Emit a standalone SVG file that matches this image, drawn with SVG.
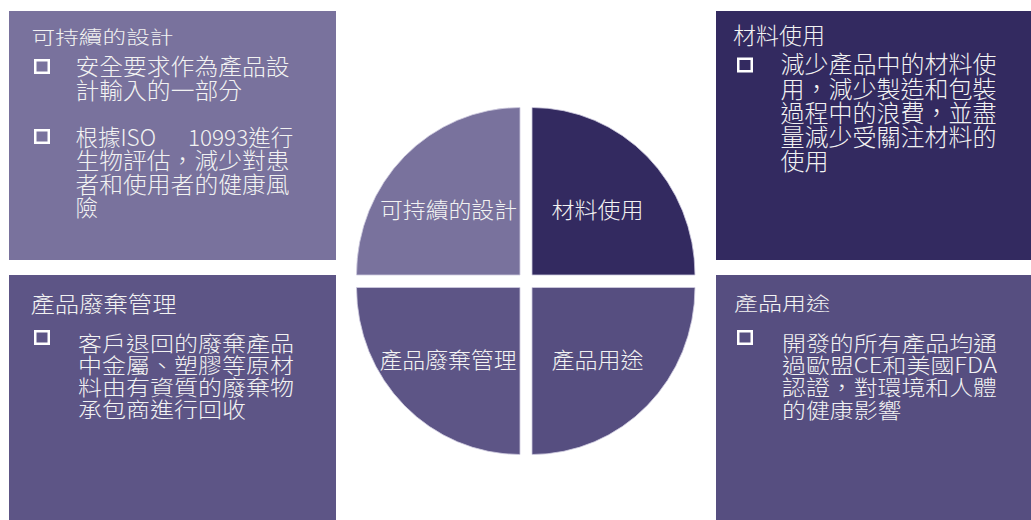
<svg xmlns="http://www.w3.org/2000/svg" width="1031" height="520" viewBox="0 0 1031 520">
<style>
text{font-family:"Noto Sans CJK TC","Noto Sans CJK SC",sans-serif;font-weight:300;fill:#F2F2F2}
.bul{fill:none;stroke:#FFFFFF;stroke-width:2.5}
.q{stroke:#CFCBE0;stroke-width:0.8}
.c{text-anchor:middle;font-size:22px}
</style>
<rect width="1031" height="520" fill="#FFFFFF"/>
<g id="box-sustainable">
<rect x="9" y="11" width="327" height="249" fill="#79729D"/>
<text x="31.5" y="44.3" font-size="18.5" textLength="142" lengthAdjust="spacingAndGlyphs">可持續的設計</text>
<rect class="bul" x="35.25" y="60.25" width="13.5" height="12.5"/>
<g font-size="22.5">
<text x="75.5" y="75" textLength="214" lengthAdjust="spacingAndGlyphs">安全要求作為產品設</text>
<text x="75.5" y="98.5" textLength="166.5" lengthAdjust="spacingAndGlyphs">計輸入的一部分</text>
</g>
<rect class="bul" x="35.25" y="130.25" width="13.5" height="12.5"/>
<g font-size="22.5">
<text x="75.5" y="145.5">根據ISO <tspan x="188">10993進行</tspan></text>
<text x="75.5" y="169" textLength="214" lengthAdjust="spacingAndGlyphs">生物評估，減少對患</text>
<text x="75.5" y="192.5" textLength="214" lengthAdjust="spacingAndGlyphs">者和使用者的健康風</text>
<text x="75.5" y="216">險</text>
</g>
</g>
<g id="box-material">
<rect x="716" y="11" width="315" height="249" fill="#332A60"/>
<text x="733" y="44.3" font-size="23">材料使用</text>
<rect class="bul" x="738.25" y="58.75" width="13.5" height="12.5"/>
<g font-size="24">
<text x="780.5" y="73.2" textLength="216" lengthAdjust="spacingAndGlyphs">減少產品中的材料使</text>
<text x="780.5" y="97.5" textLength="216" lengthAdjust="spacingAndGlyphs">用，減少製造和包裝</text>
<text x="780.5" y="121.8" textLength="216" lengthAdjust="spacingAndGlyphs">過程中的浪費，並盡</text>
<text x="780.5" y="146.1" textLength="216" lengthAdjust="spacingAndGlyphs">量減少受關注材料的</text>
<text x="780.5" y="170.4">使用</text>
</g>
</g>
<g id="box-waste">
<rect x="9" y="275" width="327" height="245" fill="#5D5586"/>
<text x="30.5" y="311.7" font-size="22" textLength="146" lengthAdjust="spacingAndGlyphs">產品廢棄管理</text>
<rect class="bul" x="35.25" y="331.25" width="13.5" height="12.5"/>
<g font-size="21">
<text x="78" y="350.5" textLength="216" lengthAdjust="spacingAndGlyphs">客戶退回的廢棄產品</text>
<text x="78" y="372.7" textLength="216" lengthAdjust="spacingAndGlyphs">中金屬、塑膠等原材</text>
<text x="78" y="394.9" textLength="216" lengthAdjust="spacingAndGlyphs">料由有資質的廢棄物</text>
<text x="78" y="417.1" textLength="168" lengthAdjust="spacingAndGlyphs">承包商進行回收</text>
</g>
</g>
<g id="box-usage">
<rect x="716" y="275" width="315" height="245" fill="#564E80"/>
<text x="734" y="310.9" font-size="19.5" textLength="96" lengthAdjust="spacingAndGlyphs">產品用途</text>
<rect class="bul" x="738.25" y="331.25" width="13.5" height="12.5"/>
<g font-size="21">
<text x="782" y="351" textLength="215" lengthAdjust="spacingAndGlyphs">開發的所有產品均通</text>
<text x="782" y="373.2" textLength="215" lengthAdjust="spacingAndGlyphs">過歐盟CE和美國FDA</text>
<text x="782" y="395.4" textLength="215" lengthAdjust="spacingAndGlyphs">認證，對環境和人體</text>
<text x="782" y="417.6" textLength="119.5" lengthAdjust="spacingAndGlyphs">的健康影響</text>
</g>
</g>
<g id="pie">
<g id="q-sustainable">
<path class="q" d="M520,275 L356.5,275 A163.5,167.5 0 0 1 520,107.5 Z" fill="#79729D"/>
<text class="c" x="448.5" y="218.3" textLength="137" lengthAdjust="spacingAndGlyphs">可持續的設計</text>
</g>
<g id="q-material">
<path class="q" d="M532,275 L532,107.5 A163,167.5 0 0 1 695,275 Z" fill="#332A60"/>
<text class="c" x="597.5" y="218.3" textLength="92" lengthAdjust="spacingAndGlyphs">材料使用</text>
</g>
<g id="q-waste">
<path class="q" d="M520,287.5 L520,454.5 A163.5,167 0 0 1 356.5,287.5 Z" fill="#5D5586"/>
<text class="c" x="448" y="368.3" textLength="137" lengthAdjust="spacingAndGlyphs">產品廢棄管理</text>
</g>
<g id="q-usage">
<path class="q" d="M532,287.5 L695,287.5 A163,167 0 0 1 532,454.5 Z" fill="#564E80"/>
<text class="c" x="597.5" y="368.3" textLength="92" lengthAdjust="spacingAndGlyphs">產品用途</text>
</g>
</g>
<g id="connectors"/>
</svg>
